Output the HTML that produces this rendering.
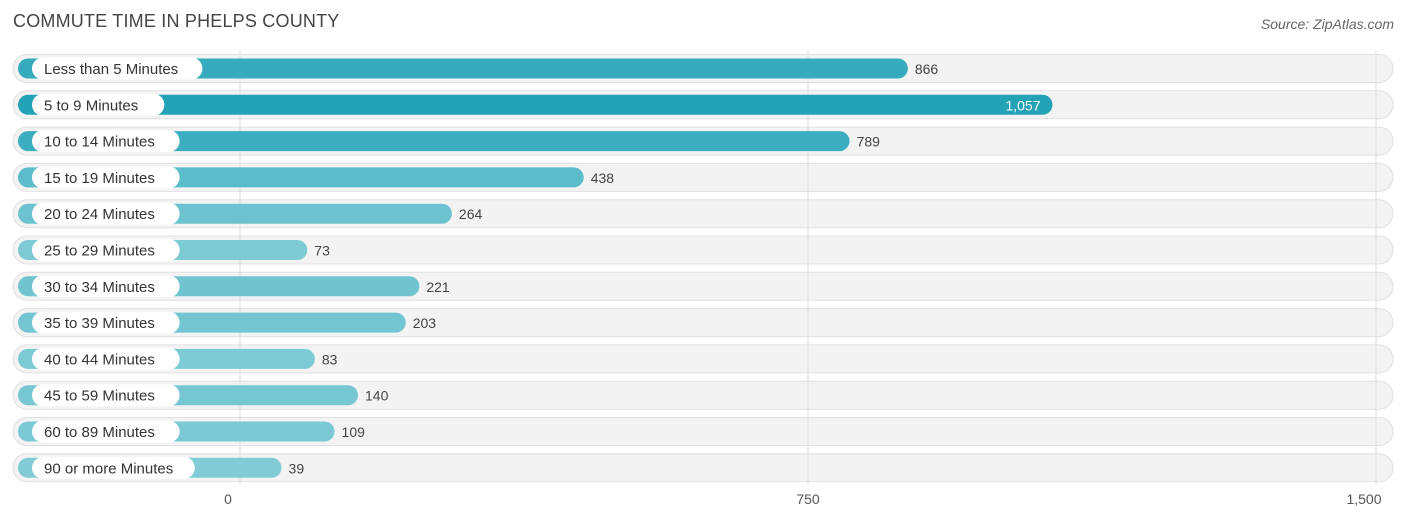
<!DOCTYPE html>
<html><head><meta charset="utf-8"><style>
body{margin:0;width:1406px;height:524px;background:#fff;font-family:"Liberation Sans",sans-serif;overflow:hidden;position:relative}
.title{position:absolute;left:13px;top:11px;font-size:18px;color:#444;letter-spacing:0.2px}
.src{position:absolute;right:12px;top:16px;font-size:14px;color:#666;font-style:italic}
svg{position:absolute;left:0;top:0}
</style></head><body>
<div class="title">COMMUTE TIME IN PHELPS COUNTY</div>
<div class="src">Source: ZipAtlas.com</div>
<svg id="chart" width="1406" height="524"></svg>
<script>
const categories=["Less than 5 Minutes","5 to 9 Minutes","10 to 14 Minutes","15 to 19 Minutes","20 to 24 Minutes","25 to 29 Minutes","30 to 34 Minutes","35 to 39 Minutes","40 to 44 Minutes","45 to 59 Minutes","60 to 89 Minutes","90 or more Minutes"];
const values=[866,1057,789,438,264,73,221,203,83,140,109,39];
const valueLabels=["866","1,057","789","438","264","73","221","203","83","140","109","39"];
const ticks=[0,750,1500];
const tickLabels=["0","750","1,500"];
const NS="http://www.w3.org/2000/svg";
const svg=document.getElementById('chart');
const x0=240,scale=568/750;
const xAxis=v=>x0+v*scale;
const barEnd=v=>x0+12+v*scale;
const rowY=i=>68.5+i*36.3;
function mk(t,a){const e=document.createElementNS(NS,t);for(const k in a)e.setAttribute(k,a[k]);svg.appendChild(e);return e;}
function color(v){const max=Math.max(...values);const t=Math.min(1,v/max);
 const a=[132,205,215],b=[36,163,183];return `rgb(${a.map((c,i)=>Math.round(c+(b[i]-c)*t)).join(',')})`;}
categories.forEach((c,i)=>{const cy=rowY(i);
 const bg=mk('rect',{x:13,y:cy-14,width:1380,height:28,rx:14,fill:'#f3f3f3',stroke:'#e0e0e0','stroke-width':1});
 });
ticks.forEach((t,i)=>{const l=mk('line',{x1:xAxis(t),x2:xAxis(t),y1:50,y2:484,stroke:'#ddd','stroke-width':1});
 
 const tx=mk('text',{x:xAxis(t)-(i==0?12:0)+(i==2?-12:0),y:504,'font-size':14,fill:'#555','text-anchor':'middle'});
 tx.textContent=tickLabels[i];
 });
categories.forEach((c,i)=>{const cy=rowY(i),v=values[i],end=barEnd(v);
 const b=mk('rect',{x:18,y:cy-10,width:end-18,height:20,rx:10,fill:color(v)});
 
 const w=c.length*7.6+26;
 const p=mk('rect',{x:32,y:cy-11,width:w,height:22,rx:11,fill:'#fff'});
 
 const lt=mk('text',{x:44,y:cy+5.5,'font-size':15,fill:'#333'});lt.textContent=c;
 
 const inside=v>1000;
 const vt=mk('text',{x:inside?end-12:end+7,y:cy+5.5,'font-size':14,fill:inside?'#fff':'#444','text-anchor':inside?'end':'start'});
 vt.textContent=valueLabels[i];
 });
</script>
</body></html>
